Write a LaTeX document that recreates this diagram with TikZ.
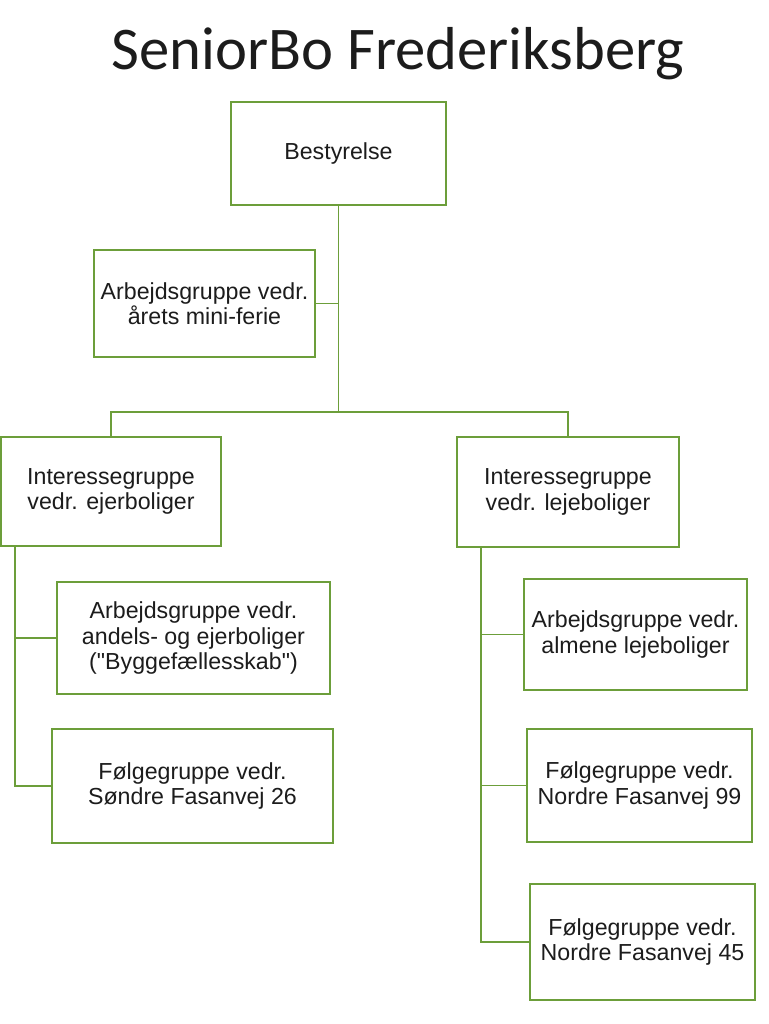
\documentclass[tikz,border=0pt]{standalone}
\usepackage{fontspec}
\setmainfont{Liberation Sans}[Ligatures=TeXOff]
\newfontfamily\titlefont{Carlito}
\definecolor{boxgreen}{RGB}{108,158,58}
\definecolor{ink}{RGB}{28,28,28}
\tikzset{
  grp/.style={draw=boxgreen, line width=1.6pt, align=center, text=ink,
    font=\fontsize{13.2}{14.4}\selectfont, inner sep=0pt},
  link/.style={draw=boxgreen, line width=1pt}
}
\begin{document}
\begin{tikzpicture}[x=0.02cm, y=-0.02cm]
    \useasboundingbox (0,0) rectangle (768,1024);
    \fill[white] (0,0) rectangle (768,1024);

      \node[anchor=base, text=ink, font=\titlefont\fontsize{34.5}{40}\selectfont] (title) at (398,70) {SeniorBo Frederiksberg};

      \node[grp, minimum width=215*0.02cm, minimum height=103*0.02cm] (best) at (338.5,153.5) {Bestyrelse};
      \node[grp, minimum width=221*0.02cm, minimum height=107*0.02cm] (mini) at (204.5,303.5) {Arbejdsgruppe vedr.\\årets mini-ferie};

      \node[grp, minimum width=220*0.02cm, minimum height=109*0.02cm] (ejer) at (111,491.5) {Interessegruppe\\vedr. ejerboliger};
      \node[grp, minimum width=222*0.02cm, minimum height=110*0.02cm] (leje) at (568,492) {Interessegruppe\\vedr. lejeboliger};

      \node[grp, minimum width=273*0.02cm, minimum height=112*0.02cm] (andel) at (193.5,638) {Arbejdsgruppe vedr.\\andels- og ejerboliger\\("Byggefællesskab")};
      \node[grp, minimum width=281*0.02cm, minimum height=114*0.02cm] (sondre) at (192.5,786) {Følgegruppe vedr.\\Søndre Fasanvej 26};

      \node[grp, minimum width=223*0.02cm, minimum height=111*0.02cm] (almene) at (635.5,634.5) {Arbejdsgruppe vedr.\\almene lejeboliger};
      \node[grp, minimum width=225*0.02cm, minimum height=113*0.02cm] (n99) at (639.5,785.5) {Følgegruppe vedr.\\Nordre Fasanvej 99};
      \node[grp, minimum width=225*0.02cm, minimum height=116*0.02cm] (n45) at (642.5,942) {Følgegruppe vedr.\\Nordre Fasanvej 45};

      % top trunk
      \coordinate (split) at (338.5,412);
      \draw[link] (best.south) -- (split);
      \draw[link] (mini.east) -- (mini.east -| split);
      \draw[link] (ejer.north) |- (split) -| (leje.north);

      % left branch
      \coordinate (lspine) at (15,546);
      \draw[link] (lspine) |- (andel.west);
      \draw[link] (lspine) |- (sondre.west);

      % right branch
      \coordinate (rspine) at (481,547);
      \draw[link] (rspine) |- (almene.west);
      \draw[link] (rspine) |- (n99.west);
      \draw[link] (rspine) |- (n45.west);
  \end{tikzpicture}
\end{document}
